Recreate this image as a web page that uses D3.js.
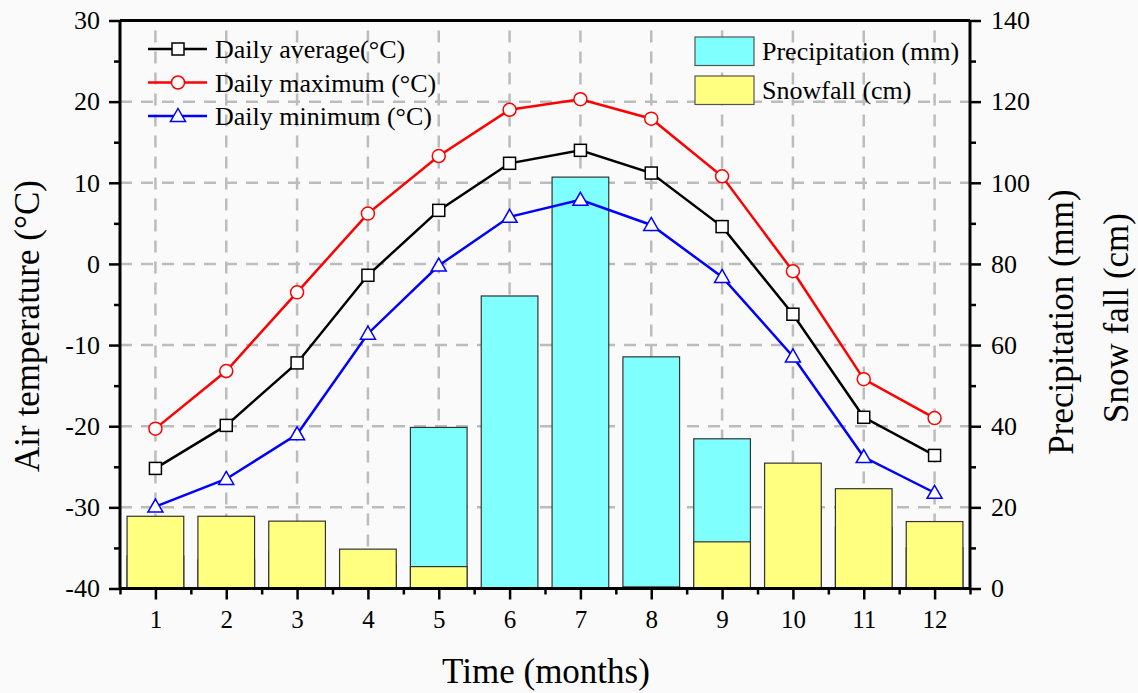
<!DOCTYPE html>
<html>
<head>
<meta charset="utf-8">
<script src="https://cdn.jsdelivr.net/npm/d3@7"></script>
<style>
  html, body { margin: 0; padding: 0; background: #fafafa; }
  svg { display: block; font-family: "Liberation Serif", "Times New Roman", serif; }
</style>
</head>
<body>
<div id="chart"></div>
<script>
/* ---- data ---- */
const months = [1, 2, 3, 4, 5, 6, 7, 8, 9, 10, 11, 12];
const tAvg = [-25.2, -19.9, -12.2, -1.4, 6.6, 12.4, 14.0, 11.2, 4.6, -6.2, -18.9, -23.6];
const tMax = [-20.3, -13.2, -3.5, 6.2, 13.3, 19.0, 20.3, 17.9, 10.8, -0.9, -14.2, -19.0];
const tMin = [-29.9, -26.5, -21.0, -8.6, -0.2, 5.8, 7.9, 4.8, -1.6, -11.4, -23.8, -28.2];
const precip = [8, 7, 9, 6, 39.7, 72.1, 101.4, 57.1, 36.9, 20, 15, 10];
const snowfall = [17.8, 17.8, 16.6, 9.7, 5.4, 0, 0, 0.4, 11.5, 30.9, 24.6, 16.5];

const lineSeries = [
  { name: "Daily average(\u00B0C)", values: tAvg, color: "#000000", marker: "square" },
  { name: "Daily maximum (\u00B0C)", values: tMax, color: "#ff0000", marker: "circle" },
  { name: "Daily minimum (\u00B0C)", values: tMin, color: "#0000ff", marker: "triangle" }
];
const barSeries = [
  { name: "Precipitation (mm)", values: precip, color: "#80ffff" },
  { name: "Snowfall (cm)", values: snowfall, color: "#ffff80" }
];

/* ---- layout ---- */
const W = 1138, H = 693;
const L = 120, R = 970, T = 20.5, B = 588.5;

const svg = d3.select("#chart").append("svg")
  .attr("width", W).attr("height", H);

svg.append("rect").attr("width", W).attr("height", H).attr("fill", "#fafafa");

const x = d3.scaleLinear().domain([0.5, 12.5]).range([L, R]);
const yT = d3.scaleLinear().domain([-40, 30]).range([B, T]);
const yP = d3.scaleLinear().domain([0, 140]).range([B, T]);

// plain hyphen for negatives, like the original
const fmt = d => String(d);

/* ---- grid ---- */
const grid = svg.append("g")
  .attr("stroke", "#bcbcbc")
  .attr("stroke-width", 2.5)
  .attr("stroke-dasharray", "12 9");

grid.selectAll(".gx").data(months).enter().append("line")
  .attr("x1", d => x(d)).attr("x2", d => x(d))
  .attr("y1", B).attr("y2", T);

grid.selectAll(".gy").data(d3.range(-30, 30, 10)).enter().append("line")
  .attr("x1", L).attr("x2", R)
  .attr("y1", d => yT(d)).attr("y2", d => yT(d));

/* ---- bars (snowfall drawn over precipitation) ---- */
const bw = (x(2) - x(1)) * 0.8;
barSeries.forEach(s => {
  svg.append("g").selectAll("rect")
    .data(months.map((m, i) => ({ m, v: s.values[i] })))
    .enter().append("rect")
    .attr("x", d => x(d.m) - bw / 2)
    .attr("width", bw)
    .attr("y", d => yP(d.v))
    .attr("height", d => B - yP(d.v))
    .attr("fill", s.color)
    .attr("stroke", "#333")
    .attr("stroke-width", 1.2);
});

/* ---- markers ---- */
function drawMarker(g, type, color) {
  if (type === "square") {
    g.append("rect").attr("x", -6).attr("y", -6).attr("width", 12).attr("height", 12)
      .attr("fill", "#fff").attr("stroke", color).attr("stroke-width", 1.5);
  } else if (type === "circle") {
    g.append("circle").attr("r", 6.5)
      .attr("fill", "#fff").attr("stroke", color).attr("stroke-width", 1.5);
  } else {
    g.append("path").attr("d", "M0,-7.5L7.5,5.5L-7.5,5.5Z")
      .attr("fill", "#fff").attr("stroke", color).attr("stroke-width", 1.5);
  }
}

/* ---- lines ---- */
const line = d3.line().x(d => x(d.m)).y(d => yT(d.v));
lineSeries.forEach(s => {
  const pts = months.map((m, i) => ({ m, v: s.values[i] }));
  svg.append("path").datum(pts)
    .attr("d", line)
    .attr("fill", "none")
    .attr("stroke", s.color)
    .attr("stroke-width", 2.5);
  svg.append("g").selectAll("g")
    .data(pts).enter().append("g")
    .attr("transform", d => `translate(${x(d.m)},${yT(d.v)})`)
    .each(function () { drawMarker(d3.select(this), s.marker, s.color); });
});

/* ---- axes ---- */
const frame = svg.append("g").attr("stroke", "#000").attr("stroke-width", 3);
frame.append("line").attr("x1", L).attr("x2", R).attr("y1", T).attr("y2", T);

// bottom
const xMinor = svg.append("g").attr("transform", `translate(0,${B})`)
  .call(d3.axisBottom(x).tickValues(d3.range(0.5, 13, 1)).tickSize(6).tickFormat(""));
const xAxis = svg.append("g").attr("transform", `translate(0,${B})`)
  .call(d3.axisBottom(x).tickValues(months).tickSize(11).tickPadding(11).tickFormat(fmt));
xAxis.selectAll("text").attr("font-size", 25);

// left
const yMinor = svg.append("g").attr("transform", `translate(${L},0)`)
  .call(d3.axisLeft(yT).tickValues(d3.range(-35, 30, 10)).tickSize(6).tickFormat(""));
const yAxis = svg.append("g").attr("transform", `translate(${L},0)`)
  .call(d3.axisLeft(yT).tickValues(d3.range(-40, 31, 10)).tickSize(11).tickPadding(9).tickFormat(fmt));
yAxis.selectAll("text").attr("font-size", 26);

// right
const pMinor = svg.append("g").attr("transform", `translate(${R},0)`)
  .call(d3.axisRight(yP).tickValues(d3.range(10, 140, 20)).tickSize(6).tickFormat(""));
const pAxis = svg.append("g").attr("transform", `translate(${R},0)`)
  .call(d3.axisRight(yP).tickValues(d3.range(0, 141, 20)).tickSize(11).tickPadding(10).tickFormat(fmt));
pAxis.selectAll("text").attr("font-size", 26);

[xMinor, xAxis, yMinor, yAxis, pMinor, pAxis].forEach(g => {
  g.select(".domain").attr("stroke-width", 3);
  g.selectAll(".tick line").attr("stroke-width", 2.5);
  g.selectAll("text")
    .attr("font-family", "Liberation Serif, Times New Roman, serif")
    .attr("fill", "#000");
});
xMinor.select(".domain").remove();
yMinor.select(".domain").remove();
pMinor.select(".domain").remove();
xAxis.select(".domain").attr("d", `M${L},0H${R}`);
yAxis.select(".domain").attr("d", `M0,${T}V${B}`);
pAxis.select(".domain").attr("d", `M0,${T}V${B}`);

/* ---- titles ---- */
svg.append("text")
  .attr("transform", `translate(39,326) rotate(-90)`)
  .attr("text-anchor", "middle")
  .attr("font-size", 35)
  .text("Air temperature (\u00B0C)");

svg.append("text")
  .attr("x", 546).attr("y", 683)
  .attr("text-anchor", "middle")
  .attr("font-size", 35)
  .text("Time (months)");

svg.append("text")
  .attr("transform", `translate(1073,322) rotate(-90)`)
  .attr("text-anchor", "middle")
  .attr("font-size", 35)
  .text("Precipitation (mm)");

svg.append("text")
  .attr("transform", `translate(1128,318) rotate(-90)`)
  .attr("text-anchor", "middle")
  .attr("font-size", 35)
  .text("Snow fall (cm)");

/* ---- legends ---- */
const legL = svg.append("g");
lineSeries.forEach((s, i) => {
  const yy = 49 + i * 33.5;
  legL.append("line").attr("x1", 148).attr("x2", 207).attr("y1", yy).attr("y2", yy)
    .attr("stroke", s.color).attr("stroke-width", 2.5);
  const m = legL.append("g").attr("transform", `translate(178,${yy})`);
  drawMarker(m, s.marker, s.color);
  legL.append("text").attr("x", 215).attr("y", yy + 9)
    .attr("font-size", 26).text(s.name);
});

const legR = svg.append("g");
barSeries.forEach((s, i) => {
  const yy = 37 + i * 39;
  legR.append("rect").attr("x", 695).attr("y", yy).attr("width", 59).attr("height", 28.5)
    .attr("fill", s.color).attr("stroke", "#555").attr("stroke-width", 1.2);
  legR.append("text").attr("x", 762).attr("y", yy + 23)
    .attr("font-size", 26).text(s.name);
});
</script>
</body>
</html>
